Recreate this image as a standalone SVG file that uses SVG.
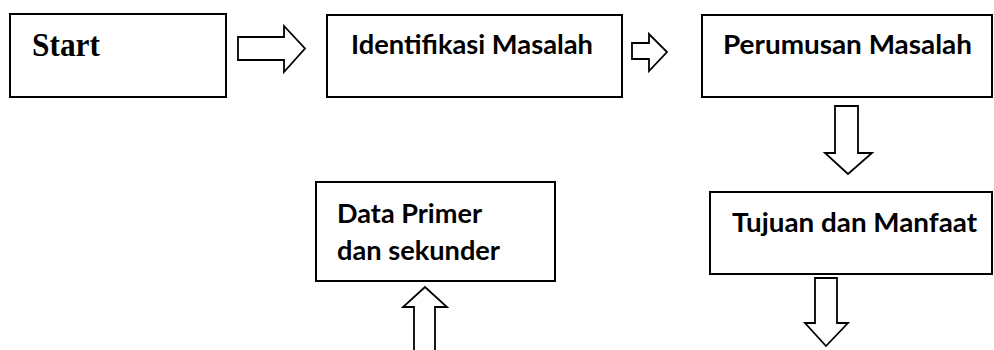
<svg xmlns="http://www.w3.org/2000/svg" width="994" height="350" viewBox="0 0 994 350">
<style>
.box{fill:#fff;stroke:#000;stroke-width:2}
.arr{fill:#fff;stroke:#000;stroke-width:1.8;stroke-linejoin:miter}
.t{font-family:Lato,"Open Sans","Liberation Sans",sans-serif;font-weight:bold;font-size:27px;fill:#000}
.s{font-family:"Liberation Serif","Times New Roman",serif;font-weight:bold;font-size:34px;fill:#000}
</style>
<rect width="994" height="350" fill="#fff"/>
<g id="start">
<rect class="box" x="10" y="14" width="216" height="83"/>
<text class="s" x="32" y="56" textLength="68" lengthAdjust="spacingAndGlyphs">Start</text>
</g>
<g id="identifikasi">
<rect class="box" x="327" y="15" width="295" height="82"/>
<text class="t" x="351" y="54" textLength="242" lengthAdjust="spacingAndGlyphs">Identifikasi Masalah</text>
</g>
<g id="perumusan">
<rect class="box" x="702" y="15" width="290" height="82"/>
<text class="t" x="723" y="54" textLength="249" lengthAdjust="spacingAndGlyphs">Perumusan Masalah</text>
</g>
<g id="tujuan">
<rect class="box" x="710" y="192" width="282" height="82"/>
<text class="t" x="732" y="232" textLength="245" lengthAdjust="spacingAndGlyphs">Tujuan dan Manfaat</text>
</g>
<g id="data">
<rect class="box" x="316" y="182" width="239" height="99"/>
<text class="t" x="337" y="223" textLength="145" lengthAdjust="spacingAndGlyphs">Data Primer</text>
<text class="t" x="337" y="260" textLength="163" lengthAdjust="spacingAndGlyphs">dan sekunder</text>
</g>
<g id="connectors">
<path class="arr" d="M238,37 H284 V26 L305,48.5 L284,72 V60 H238 Z"/>
<path class="arr" d="M632,43 H649 V34 L667,52 L649,71 V59 H632 Z"/>
<path class="arr" d="M835,106 V153 H825 L848,174 L872,153 H858 V106 Z"/>
<path class="arr" d="M815,278 V323 H805 L826,346 L848,323 H837 V278 Z"/>
<path class="arr" d="M414,353 V307 H403 L425,287 L447,307 H435 V353"/>
</g>
</svg>
